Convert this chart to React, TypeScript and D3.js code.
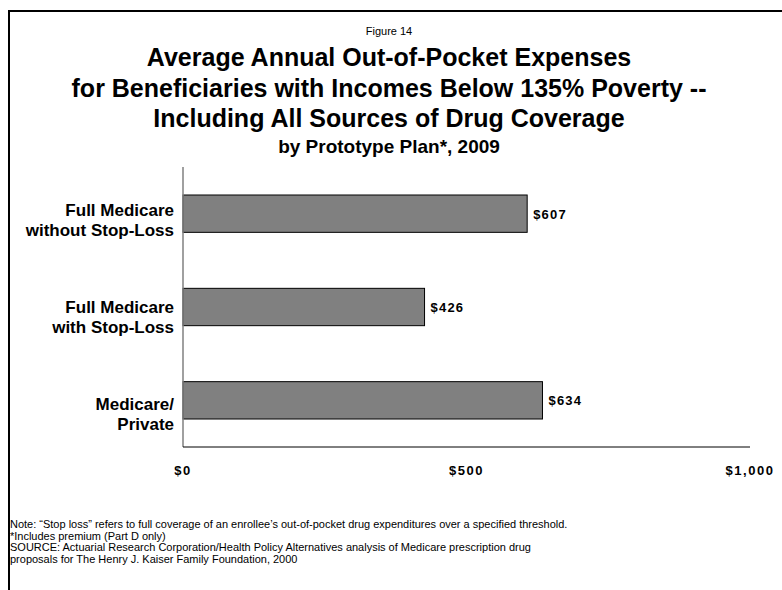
import React from "react";
import * as d3 from "d3";

const categories = [
  ["Full Medicare", "without Stop-Loss"],
  ["Full Medicare", "with Stop-Loss"],
  ["Medicare/", "Private"],
];
const values = [607, 426, 634];
const ticks = [0, 500, 1000];
const titleLines = [
  "Average Annual Out-of-Pocket Expenses",
  "for Beneficiaries with Incomes Below 135% Poverty --",
  "Including All Sources of Drug Coverage",
];
const notes = [
  "Note: \u201cStop loss\u201d refers to full coverage of an enrollee\u2019s out-of-pocket drug expenditures over a specified threshold.",
  "*Includes premium (Part D only)",
  "SOURCE: Actuarial Research Corporation/Health Policy Alternatives analysis of Medicare prescription drug",
  "proposals for The Henry J. Kaiser Family Foundation, 2000",
];

const W = 782;
const H = 590;
const FONT = "Liberation Sans, Arial, sans-serif";

export default function App() {
  const x = d3.scaleLinear().domain([0, 1000]).range([183, 750]);
  const y = d3
    .scaleBand<number>()
    .domain(values.map((_, i) => i))
    .range([167, 447])
    .paddingInner(0.6)
    .paddingOuter(0.3);
  const yLabel = d3
    .scalePoint<number>()
    .domain(values.map((_, i) => i))
    .range([216, 410]);
  const fmt = (v: number) => "$" + d3.format(",")(v);

  return (
    <svg
      width={W}
      height={H}
      style={{ position: "absolute", left: 0, top: 0, background: "#fff" }}
      fontFamily={FONT}
    >
      <rect x={0} y={0} width={W} height={H} fill="#fff" />
      <path d={`M9,${H} V11 H${W}`} fill="none" stroke="#000" strokeWidth={2} />
      <text x={389} y={35} textAnchor="middle" fontSize={11}>
        Figure 14
      </text>
      {titleLines.map((t, i) => (
        <text
          key={i}
          x={389}
          y={66 + i * 30.5}
          textAnchor="middle"
          fontSize={25}
          fontWeight="bold"
        >
          {t}
        </text>
      ))}
      <text x={389} y={153} textAnchor="middle" fontSize={19} fontWeight="bold">
        by Prototype Plan*, 2009
      </text>

      {values.map((v, i) => (
        <g key={i}>
          <rect
            x={x(0)}
            y={y(i)!}
            width={x(v) - x(0)}
            height={y.bandwidth()}
            fill="#808080"
            stroke="#000"
            strokeWidth={1}
          />
          <text
            x={x(v) + 6}
            y={y(i)! + y.bandwidth() / 2 + 5}
            fontSize={13}
            fontWeight="bold"
            letterSpacing={1.2}
          >
            {fmt(v)}
          </text>
          {categories[i].map((line, j) => (
            <text
              key={j}
              x={174}
              y={yLabel(i)! + j * 20}
              textAnchor="end"
              fontSize={17}
              fontWeight="bold"
            >
              {line}
            </text>
          ))}
        </g>
      ))}

      <line x1={183} x2={183} y1={167} y2={447} stroke="#808080" strokeWidth={1.5} />
      <line x1={183} x2={750} y1={447} y2={447} stroke="#000" strokeWidth={1} />

      {ticks.map((t) => (
        <text
          key={t}
          x={x(t)}
          y={475}
          textAnchor="middle"
          fontSize={13}
          fontWeight="bold"
          letterSpacing={1.5}
        >
          {fmt(t)}
        </text>
      ))}

      <g transform="translate(10,0) scale(1.1,1)">
        {notes.map((n, i) => (
          <text key={i} x={0} y={528 + i * 11.7} fontSize={10}>
            {n}
          </text>
        ))}
      </g>
    </svg>
  );
}
